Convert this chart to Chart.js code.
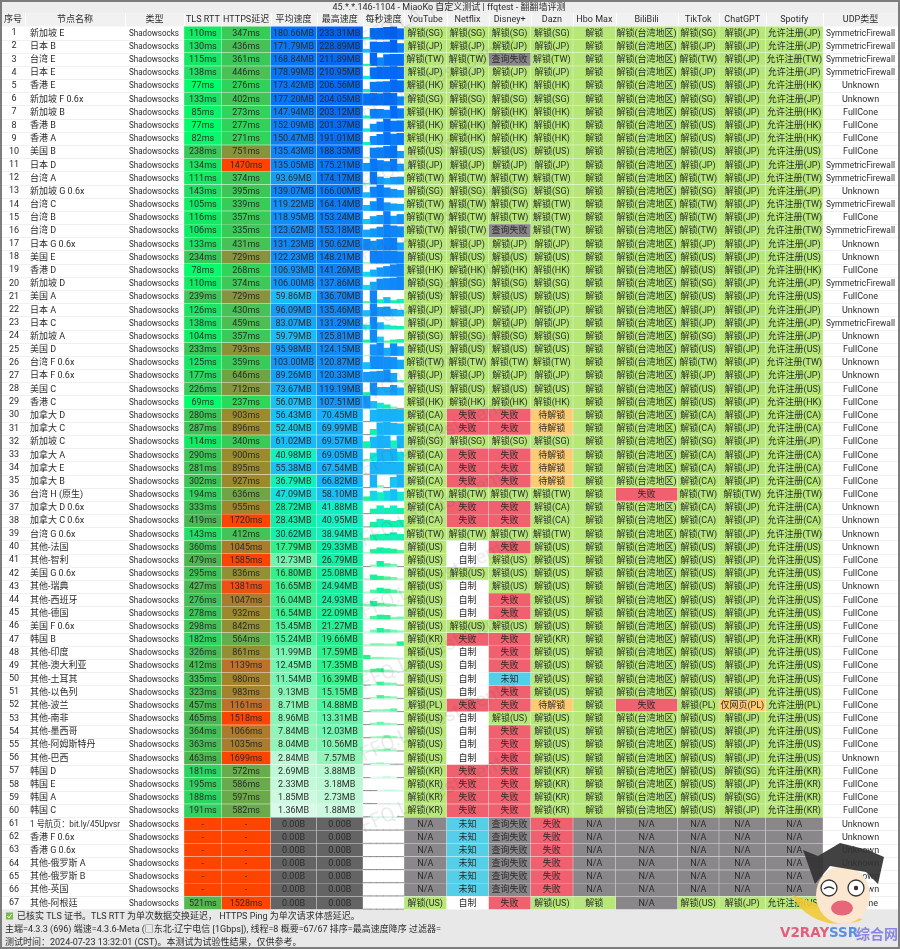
<!DOCTYPE html>
<html lang="zh">
<head>
<meta charset="utf-8">
<title>ffqtest</title>
<style>html,body{margin:0;padding:0;background:#eee}canvas{display:block}</style>
<script src="https://cdn.jsdelivr.net/npm/chart.js@4"></script>
</head>
<body>
<canvas id="c" width="900" height="949"></canvas>
<script>
const F='失败',W='待解锁',Q='查询失败',Z='自制',K='未知',NA='N/A',H='解锁',T='解锁(台湾地区)',O='仅网页(PL)';
const chartTitle='45.*.*.146-1104 - MiaoKo 自定义测试 | ffqtest - 翻翻墙评测';
const headers=['序号','节点名称','类型','TLS RTT','HTTPS延迟','平均速度','最高速度','每秒速度','YouTube','Netflix','Disney+','Dazn','Hbo Max','BiliBili','TikTok','ChatGPT','Spotify','UDP类型'];
const footerLines=['已核实 TLS 证书。TLS RTT 为单次数据交换延迟， HTTPS Ping 为单次请求体感延迟。','主端=4.3.3 (696) 端速=4.3.6-Meta (□东北-辽宁电信 [1Gbps]), 线程=8 概要=67/67 排序=最高速度降序 过滤器=','测试时间：2024-07-23 13:32:01 (CST)。本测试为试验性结果，仅供参考。'];
const names=['新加坡 E','日本 B','台湾 E','日本 E','香港 E','新加坡 F 0.6x','新加坡 B','香港 B','香港 A','美国 B','日本 D','台湾 A','新加坡 G 0.6x','台湾 C','台湾 B','台湾 D','日本 G 0.6x','美国 E','香港 D','新加坡 D','美国 A','日本 A','日本 C','新加坡 A','美国 D','台湾 F 0.6x','日本 F 0.6x','美国 C','香港 C','加拿大 D','加拿大 C','新加坡 C','加拿大 A','加拿大 E','加拿大 B','台湾 H (原生)','加拿大 D 0.6x','加拿大 C 0.6x','台湾 G 0.6x','其他-法国','其他-智利','美国 G 0.6x','其他-瑞典','其他-西班牙','其他-德国','美国 F 0.6x','韩国 B','其他-印度','其他-澳大利亚','其他-土耳其','其他-以色列','其他-波兰','其他-南非','其他-墨西哥','其他-阿姆斯特丹','其他-巴西','韩国 D','韩国 E','韩国 A','韩国 C','1 号航页：bit.ly/45Upvsr','香港 F 0.6x','香港 G 0.6x','其他-俄罗斯 A','其他-俄罗斯 B','其他-英国','其他-阿根廷'];
const tlsRtt=[110,130,115,138,77,133,85,77,82,238,134,111,143,105,116,106,133,234,78,110,239,126,138,104,233,125,177,226,69,280,287,114,290,281,302,194,333,419,143,360,479,295,427,276,278,298,182,326,412,335,323,457,465,364,363,463,181,195,188,191,null,null,null,null,null,null,521];
const httpsDelay=[347,436,361,446,276,402,273,277,271,751,1470,374,395,339,357,335,431,729,268,374,729,430,459,357,793,359,646,712,237,903,896,340,900,895,927,636,955,1720,412,1045,1585,836,1381,1047,932,842,564,861,1139,980,983,1161,1518,1066,1035,1699,572,586,597,582,null,null,null,null,null,null,1528];
const avgSpeed=[180.66,171.79,168.84,178.99,173.42,177.20,147.94,152.09,150.47,135.43,135.05,93.69,139.07,119.22,118.95,123.62,131.23,122.23,106.93,106.00,59.86,96.09,83.07,59.79,95.98,103.00,89.26,73.67,56.07,56.43,52.40,61.02,40.98,55.38,36.79,47.09,28.72,28.43,30.62,17.79,12.73,16.80,16.65,16.04,16.54,15.45,15.24,11.99,12.45,11.54,9.13,8.71,8.96,7.84,8.04,2.84,2.69,2.33,1.85,1.36,0,0,0,0,0,0,0];
const maxSpeed=[233.31,228.89,211.89,210.95,206.56,204.05,203.12,201.37,191.01,188.35,175.21,174.17,166.00,164.14,153.24,153.18,150.62,148.21,141.26,137.86,136.70,135.46,131.29,125.81,124.15,120.87,120.33,119.19,107.51,70.45,69.99,69.57,69.05,67.54,66.82,58.10,41.88,40.95,38.94,29.33,26.79,25.08,24.94,24.93,22.09,21.27,19.66,17.59,17.35,16.39,15.15,14.88,13.31,12.03,10.56,7.57,3.88,3.18,2.73,1.88,0,0,0,0,0,0,0];
const perSecond=[[35,205,210,225,233,200],[60,195,190,195,229,165],[25,212,135,190,195,195],[45,190,205,205,211,200],[45,165,170,175,207,190],[190,195,190,204,195,140],[40,150,148,135,203,160],[45,120,155,200,170,175],[35,125,155,185,160,170],[10,150,155,175,188,100],[110,175,150,135,170,100],[15,170,100,80,95,100],[65,140,166,130,110,95],[70,120,164,105,90,85],[55,90,105,153,95,115],[85,100,120,150,135,125],[135,110,130,151,150,90],[10,148,145,148,145,140],[50,75,100,115,135,141],[50,85,120,125,130,138],[15,137,35,60,25,40],[60,135,95,100,75,65],[45,131,70,45,35,30],[25,125,55,15,25,30],[5,110,124,75,120,90],[60,120,120,115,110,85],[95,100,105,120,85,15],[25,119,75,75,95,70],[107,60,45,30,12,0],[0,65,70,70,70,68],[0,30,68,70,65,62],[35,62,70,68,40,68],[10,45,68,65,69,50],[0,65,67,66,65,66],[0,67,10,0,55,67],[20,50,42,50,58,45],[0,25,42,30,42,28],[0,25,41,35,30,35],[10,28,30,32,39,30],[5,20,29,25,22,15],[0,8,27,15,12,0],[5,25,18,15,12,5],[5,15,25,20,15,8],[10,25,15,12,8,5],[3,15,22,20,10,12],[3,12,21,15,12,8],[5,10,10,8,8,20],[18,8,8,6,5,3],[8,15,17,10,6,4],[0,4,16,12,10,0],[0,5,15,10,8,0],[0,9,9,10,14,0],[0,8,13,8,6,0],[0,6,7,12,8,3],[2,5,8,10,6,0],[0,5,7,4,0,0],[0,1,2,3.5,2,0],[0,0,2,3,3,2],[0,0,2,2.5,2,1],[0,1,1.8,1.5,1,0],[0,0,0,0,0,0],[0,0,0,0,0,0],[0,0,0,0,0,0],[0,0,0,0,0,0],[0,0,0,0,0,0],[0,0,0,0,0,0],[0,0,0,0,0,0]];
const youtube=['SG','JP','TW','JP','HK','SG','HK','HK','HK','US','JP','TW','SG','TW','TW','TW','JP','US','HK','SG','US','JP','JP','SG','US','TW','JP','US','HK','CA','CA','SG','CA','CA','CA','TW','CA','CA','TW','US','US','US','US','US','US','US','KR','US','US','US','US','PL','US','US','US','US','KR','KR','KR','KR',NA,NA,NA,NA,NA,NA,'US'];
const netflix=['SG','JP','TW','JP','HK','SG','HK','HK','HK','US','JP','TW','SG','TW','TW','TW','JP','US','HK','SG','US','JP','JP','SG','US','TW','JP','US','HK',F,F,'SG',F,F,F,'TW',F,F,'TW',Z,Z,'US',Z,Z,Z,'US',F,Z,Z,Z,Z,F,Z,Z,Z,Z,F,F,F,F,K,K,K,K,K,K,Z];
const disney=['SG','JP',Q,'JP','HK','SG','HK','HK','HK','US','JP','TW','SG','TW','TW',Q,'JP','US','HK','SG','US','JP','JP','SG','US','TW','JP','US','HK',F,F,'SG',F,F,F,'TW',F,F,'TW',F,'US','US','US',F,F,'US',F,F,F,K,F,F,'US',F,F,F,F,F,F,F,Q,Q,Q,Q,Q,Q,F];
const dazn=['SG','JP','TW','JP','HK','SG','HK','HK','HK','US','JP','TW','SG','TW','TW','TW','JP','US','HK','SG','US','JP','JP','SG','US','TW','JP','US','HK',W,W,'SG',W,W,W,'TW','CA','CA','TW','US','US','US','US','US','US','US','KR','US','US','US','US',W,'US','US','US','US','KR','KR','KR','KR',F,F,F,F,F,F,'US'];
const hbo=[H,H,H,H,H,H,H,H,H,H,H,H,H,H,H,H,H,H,H,H,H,H,H,H,H,H,H,H,H,H,H,H,H,H,H,H,H,H,H,H,H,H,H,H,H,H,H,H,H,H,H,H,H,H,H,H,H,H,H,H,NA,NA,NA,NA,NA,NA,H];
const bilibili=[T,T,T,T,T,T,T,T,T,T,T,T,T,T,T,T,T,T,T,T,T,T,T,T,T,T,T,T,T,T,T,T,T,T,T,F,T,T,T,T,T,T,T,T,T,T,T,T,T,T,T,F,T,T,T,T,T,T,T,T,NA,NA,NA,NA,NA,NA,NA];
const tiktok=['SG','JP','TW','JP','US','SG','US','US','US','US','JP','TW','SG','TW','TW','TW','JP','US','US','SG','US','JP','JP','SG','US','TW','JP','US','US','CA','CA','SG','CA','CA','CA','TW','CA','CA','TW','US','US','US','US','US','US','US','US','US','US','US','US','PL','US','US','US','US','US','US','US','US',NA,NA,NA,NA,NA,NA,'US'];
const chatgpt=['JP','JP','JP','JP','JP','JP','JP','JP','JP','JP','JP','JP','JP','JP','JP','JP','JP','JP','JP','JP','JP','JP','JP','JP','JP','JP','JP','JP','JP','JP','JP','JP','JP','JP','JP','TW','JP','JP','JP','JP','JP','JP','JP','JP','JP','JP','JP','JP','JP','JP','JP',O,'JP','JP','JP','JP','SG','JP','SG','JP',NA,NA,NA,NA,NA,NA,'JP'];
const spotify=['JP','JP','TW','JP','HK','JP','HK','HK','HK','US','JP','TW','JP','TW','TW','TW','JP','US','HK','JP','US','JP','JP','JP','US','TW','JP','US','HK','CA','CA','JP','CA','CA','CA','TW','CA','CA','TW','US','US','US','US','US','US','US','KR','US','US','US','US','PL','US','US','US','US','KR','KR','KR','KR',NA,NA,NA,NA,NA,NA,'US'];
const S='SymmetricFirewall',U='Unknown',C='FullCone';
const udpType=[S,S,S,S,U,U,C,C,C,C,S,S,U,S,C,S,U,U,C,S,C,U,S,U,C,U,U,C,C,C,C,C,C,C,C,C,U,U,U,U,C,C,U,C,C,C,C,C,C,C,C,C,C,C,C,U,C,C,C,C,U,U,U,U,U,U,C];

// layout of the table on the linear x axis (value = canvas pixel)
const edges=[25,125,184,221.7,270.5,316.5,363,404,446.5,488.5,530.7,573,615.7,677.5,719,765.5,823,898];
const mid=i=>(edges[i]+edges[i+1])/2;
const FONT='Roboto,"Noto Sans CJK SC",sans-serif';
const FS=9;
const INK='#2b2b2b';

function lerpStops(stops,v){
  if(v<=stops[0][0])return stops[0][1];
  for(let i=1;i<stops.length;i++){
    if(v<=stops[i][0]){
      const [a,ca]=stops[i-1],[b,cb]=stops[i],t=(v-a)/(b-a);
      const p=h=>[1,3,5].map(k=>parseInt(h.substr(k,2),16));
      const A=p(ca),B=p(cb);
      return 'rgb('+A.map((x,j)=>Math.round(x+(B[j]-x)*t)).join(',')+')';
    }
  }
  return stops[stops.length-1][1];
}
const tlsStops=[[69,'#00ff6a'],[110,'#10ec64'],[143,'#22df66'],[238,'#3cc75a'],[465,'#4ab850'],[521,'#55b84e']];
const httpStops=[[237,'#2cd85a'],[347,'#38cb58'],[430,'#46c256'],[560,'#66ae4c'],[636,'#6fa545'],[729,'#86943e'],[900,'#9a8c2e'],[1045,'#aa7c2c'],[1161,'#c0702a'],[1381,'#f05010'],[1470,'#ff4400']];
const speedStops=[[1.36,'#d8fae8'],[2.5,'#c0f8d8'],[8,'#90f5b8'],[12.7,'#70f5b0'],[17,'#30f08a'],[28,'#10f0a8'],[41,'#14f0c0'],[47,'#14e0e0'],[56,'#18c0f8'],[70,'#18b0f8'],[100,'#1498f8'],[130,'#1088f8'],[170,'#0878f8'],[233,'#0060f0']];
const tlsColor=v=>v==null?'#ff4400':lerpStops(tlsStops,v);
const httpColor=v=>v==null?'#ff4400':lerpStops(httpStops,v);
const speedColor=v=>v===0?'#646464':lerpStops(speedStops,v);
function statusColor(s){
  if(s===F)return '#f0606e';
  if(s===W||s===O)return '#fdcb72';
  if(s===K)return '#55cfe8';
  if(s===Q||s===NA)return '#8a878a';
  if(s===Z)return '#ffffff';
  return '#b6e778';
}
const regionText=s=>/^[A-Z]{2}$/.test(s)?'解锁('+s+')':s;
const spotifyText=s=>/^[A-Z]{2}$/.test(s)?'允许注册('+s+')':s;
const speedText=v=>v===0?'0.00B':v.toFixed(2)+'MB';
const msText=v=>v==null?'-':v+'ms';

const columns=[
 {i:0,text:names,align:'left',pad:5,fit:90},
 {i:1,text:names.map(()=>'Shadowsocks'),align:'left',pad:4,fit:50},
 {i:2,text:tlsRtt.map(msText),color:tlsRtt.map(tlsColor)},
 {i:3,text:httpsDelay.map(msText),color:httpsDelay.map(httpColor)},
 {i:4,text:avgSpeed.map(speedText),color:avgSpeed.map(speedColor)},
 {i:5,text:maxSpeed.map(speedText),color:maxSpeed.map(speedColor)},
 {i:7,text:youtube.map(regionText),color:youtube.map(regionText).map(statusColor)},
 {i:8,text:netflix.map(regionText),color:netflix.map(regionText).map(statusColor)},
 {i:9,text:disney.map(regionText),color:disney.map(regionText).map(statusColor)},
 {i:10,text:dazn.map(regionText),color:dazn.map(regionText).map(statusColor)},
 {i:11,text:hbo,color:hbo.map(statusColor)},
 {i:12,text:bilibili,color:bilibili.map(statusColor)},
 {i:13,text:tiktok.map(regionText),color:tiktok.map(regionText).map(statusColor)},
 {i:14,text:chatgpt.map(regionText),color:chatgpt.map(regionText).map(statusColor)},
 {i:15,text:spotify.map(spotifyText),color:spotify.map(spotifyText).map(statusColor)},
 {i:16,text:udpType,fit:69}
];

const datasets=[];
columns.filter(c=>c.color).forEach(c=>{
  datasets.push({
    label:headers[c.i+1],barThickness:edges[c.i+1]-edges[c.i]-1,grouped:false,
    backgroundColor:c.color,borderWidth:0,
    data:c.text.map((_,r)=>({x:mid(c.i),y:[r+0.04,r+0.96]}))
  });
});
// per-second speed: six samples per row, height relative to the row's peak (at least 65 MB)
const sparkStart=edges[6]+0.4,sparkStep=(edges[7]-edges[6]-0.8)/6;
for(let k=0;k<6;k++){
  datasets.push({
    label:'每秒速度 '+(k+1),barThickness:sparkStep,grouped:false,borderWidth:0,
    backgroundColor:perSecond.map(s=>speedColor(s[k])),
    data:perSecond.map((s,r)=>{
      const ref=Math.max(Math.max(...s),65);
      return {x:sparkStart+(k+0.5)*sparkStep,y:[r+0.97-0.93*s[k]/ref,r+0.97]};
    })
  });
}

const tablePlugin={
  id:'table',
  beforeDraw(chart){
    const c=chart.ctx,a=chart.chartArea;
    c.save();
    c.fillStyle='#eeeeee';c.fillRect(0,0,900,949);
    c.fillStyle='#ffffff';c.fillRect(2,a.top,a.right-2,a.bottom-a.top);
    c.fillStyle='#f1f1f1';c.fillRect(2,13,896,13);
    c.fillStyle='#ffffff';
    edges.forEach(x=>c.fillRect(Math.round(x),13,1,13));
    c.fillStyle='#f0f0f0';
    const ys=chart.scales.y;
    for(let r=1;r<67;r++)c.fillRect(2,Math.round(ys.getPixelForValue(r)),896,1);
    c.fillStyle='#e8e8e8';c.fillRect(2,a.bottom,896,949-a.bottom);
    c.restore();
  },
  afterDatasetsDraw(chart){
    const c=chart.ctx,ys=chart.scales.y,xs=chart.scales.x;
    c.save();
    c.font=FS+'px '+FONT;c.textBaseline='middle';c.fillStyle=INK;
    columns.forEach(col=>{
      col.text.forEach((t,r)=>{
        const y=ys.getPixelForValue(r+0.5)+0.5;
        const isLeft=col.align==='left';
        c.textAlign=isLeft?'left':'center';
        const x=isLeft?xs.getPixelForValue(edges[col.i])+col.pad:xs.getPixelForValue(mid(col.i));
        if(col.fit)c.fillText(t,x,y,col.fit);else c.fillText(t,x,y);
      });
    });
    c.restore();
  },
  afterDraw(chart){
    const c=chart.ctx;
    c.save();
    // watermark
    c.font='20px '+FONT;c.fillStyle='rgba(70,70,70,0.11)';c.textBaseline='middle';c.textAlign='left';
    for(let y=42;y<900;y+=71.5){
      c.save();c.translate(362,y);c.rotate(-25*Math.PI/180);c.fillText('FFQ.LA Test Center',0,0);c.restore();
    }
    // footer
    const a=chart.chartArea;
    c.fillStyle='#7ab648';c.fillRect(6,a.bottom+3,7,7);
    c.strokeStyle='#ffffff';c.lineWidth=1;c.beginPath();c.moveTo(7.5,a.bottom+6.5);c.lineTo(9,a.bottom+8.5);c.lineTo(11.5,a.bottom+4.5);c.stroke();
    c.font=FS+'px '+FONT;c.fillStyle=INK;c.textAlign='left';c.textBaseline='middle';
    c.fillText(footerLines[0],17,916.5);
    c.fillText(footerLines[1],5,929.5);
    c.fillText(footerLines[2],5,942.5);
    // badge
    c.fillStyle='rgba(243,201,58,0.9)';c.beginPath();c.ellipse(840,882,50,42,0,Math.PI*0.9,Math.PI*0.35,true);c.fill();
    c.fillStyle='#fbe6cf';c.beginPath();c.ellipse(843,895,27,29,0,0,Math.PI*2);c.fill();
    c.fillStyle='rgba(50,50,50,0.92)';c.beginPath();
    c.moveTo(803,850);c.lineTo(818,856);c.lineTo(840,843);c.lineTo(868,850);c.lineTo(884,857);c.lineTo(878,884);c.lineTo(866,872);c.lineTo(830,866);c.lineTo(815,884);c.closePath();c.fill();
    c.fillStyle='#ffffff';c.strokeStyle='#333';c.lineWidth=1.3;
    c.beginPath();c.arc(829,888,8,0,Math.PI*2);c.fill();c.stroke();
    c.beginPath();c.arc(856,888,8,0,Math.PI*2);c.fill();c.stroke();
    c.fillStyle='#333';c.beginPath();c.arc(856,888,2.2,0,Math.PI*2);c.fill();
    c.beginPath();c.moveTo(824,889);c.quadraticCurveTo(829,885,834,889);c.stroke();
    c.fillStyle='#e8667a';c.beginPath();c.ellipse(842,908,11,7.5,0,0,Math.PI*2);c.fill();
    c.font='bold 13.5px "DejaVu Sans","Noto Sans CJK SC",sans-serif';c.textBaseline='middle';
    c.fillStyle='#e0607c';c.fillText('V2RAY',780,933.5);
    c.fillStyle='#5b8fe0';c.fillText('SSR',829,933.5);
    c.font='bold 14px "Noto Sans CJK SC",sans-serif';
    c.fillStyle='#8a86e0';c.fillText('综合网',856,933.5);
    // window frame
    c.strokeStyle='#7c7c7c';c.lineWidth=2;c.strokeRect(1,1,898,947);
    c.restore();
  }
};

new Chart(document.getElementById('c'),{
  type:'bar',
  data:{datasets},
  plugins:[tablePlugin],
  options:{
    responsive:false,animation:false,devicePixelRatio:1,
    events:[],clip:false,
    layout:{padding:{top:0,left:0,right:2,bottom:39.5}},
    plugins:{
      legend:{display:false},tooltip:{enabled:false},
      title:{display:true,text:chartTitle,color:INK,font:{size:FS,weight:'normal',family:FONT,lineHeight:1.2},padding:{top:2,bottom:0.2}}
    },
    scales:{
      x:{type:'linear',position:'top',min:25,max:898,offset:false,
        grid:{display:false,drawTicks:false},border:{display:false},
        afterBuildTicks(s){s.ticks=[13].concat(edges.slice(0,-1).map((_,i)=>mid(i))).map(v=>({value:v}));},
        afterFit(s){s.height=13.4;s.paddingLeft=0;s.paddingRight=0;},
        ticks:{autoSkip:false,maxRotation:0,minRotation:0,padding:1,color:INK,font:{size:FS,family:FONT},
          callback(v,i){return headers[i];}}
      },
      y:{type:'linear',reverse:true,min:0,max:67,offset:false,
        grid:{display:false,drawTicks:false},border:{display:false},
        afterBuildTicks(s){s.ticks=names.map((_,r)=>({value:r+0.5}));},
        afterFit(s){s.width=25;},
        ticks:{autoSkip:false,crossAlign:'center',padding:6,color:INK,font:{size:FS,family:FONT},
          callback(v){return String(Math.round(v+0.5));}}
      }
    }
  }
});
</script>
</body>
</html>
